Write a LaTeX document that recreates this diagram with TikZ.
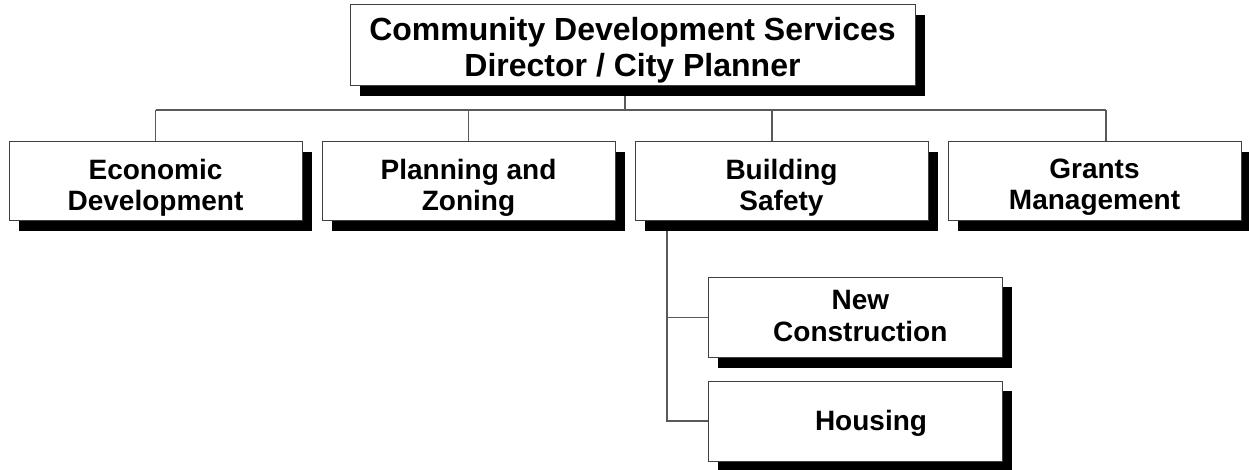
\documentclass[tikz,border=0pt]{standalone}
\usepackage{fontspec}
\setmainfont{Liberation Sans}
\usetikzlibrary{shadows,backgrounds}
\begin{document}
\begin{tikzpicture}[x=0.75pt,y=-0.75pt,
  orgbox/.style={draw=black!75, line width=0.75pt, fill=white, inner sep=0pt,
    drop shadow={shadow xshift=7.5pt, shadow yshift=-7.5pt, opacity=1, fill=black}},
  headbox/.style={orgbox, minimum width=423.75pt, minimum height=60.75pt},
  unitbox/.style={orgbox, minimum width=219.75pt, minimum height=59.25pt},
  subbox/.style={orgbox, minimum width=220.5pt, minimum height=60pt},
  headtext/.style={align=center, inner sep=0pt,
    font=\fontsize{24}{26.5}\selectfont\bfseries},
  unittext/.style={align=center, inner sep=0pt,
    font=\fontsize{21}{23}\selectfont\bfseries},
  subtext/.style={align=center, inner sep=0pt,
    font=\fontsize{21}{23.5}\selectfont\bfseries},
  link/.style={draw=black!65, line width=0.9pt}]
\useasboundingbox (0,0) rectangle (1249,470);

% junction points of the connector tree
\coordinate (bus) at (625,110);
\coordinate (bsafe) at (772,110);
\coordinate (bgrant) at (1106,110);
\coordinate (trunk) at (667,0);

% director
\node[headbox] (dir) at (632.5,45.5) {};
\node[headtext] (dirt) at ([yshift=-3.5pt]dir.center)
  {Community Development Services\\Director / City Planner};

% divisions
\node[unitbox] (econ)  at (155.5,181.5)  {};
\node[unitbox] (plan)  at (468.5,181.5)  {};
\node[unitbox] (build) at (781.5,181.5)  {};
\node[unitbox] (grant) at (1094.5,181.5) {};
\node[unittext] (econt)  at ([yshift=-4.5pt]econ.center)  {Economic\\Development};
\node[unittext] (plant)  at ([yshift=-4.5pt]plan.center)  {Planning and\\Zoning};
\node[unittext] (buildt) at ([yshift=-4.5pt]build.center) {Building\\Safety};
\node[unittext] (grantt) at ([yshift=-4.5pt]grant.center) {Grants\\Management};

% building safety sections
\node[subbox] (newc) at (855,317.5) {};
\node[subbox] (hous) at (855,421) {};
\node[subtext] (newct) at ([xshift=4pt,yshift=1pt]newc.center) {New\\Construction};
\node[subtext] (houst) at ([xshift=12pt,yshift=-1.5pt]hous.center) {Housing};

% connectors, kept beneath the boxes and their shadows
\begin{scope}[on background layer]
\draw[link] (bus |- dir.south) -- (bus);
\draw[link] (econ.north |- bus) -- (bgrant);
\draw[link] (econ.north |- bus) -- (econ.north);
\draw[link] (plan.north |- bus) -- (plan.north);
\draw[link] (bsafe) -- (bsafe |- build.north);
\draw[link] (bgrant) -- (bgrant |- grant.north);
\draw[link] (trunk |- build.south) -- (trunk |- hous.west) -- (hous.west);
\draw[link] (trunk |- newc.west) -- (newc.west);
\end{scope}
\end{tikzpicture}
\end{document}
